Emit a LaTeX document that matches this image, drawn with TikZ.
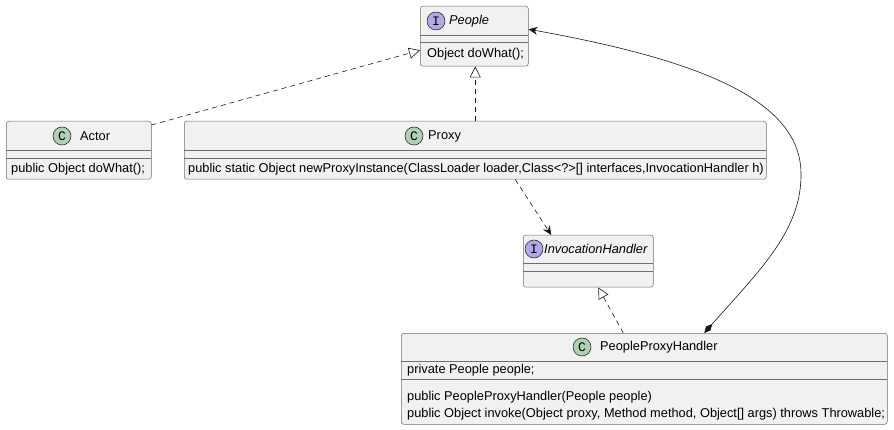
\documentclass[tikz,border=0pt]{standalone}
\usepackage{fontspec}
\setmainfont{Liberation Sans}
\newfontfamily\monofont{Liberation Mono}
\usetikzlibrary{arrows.meta}
\definecolor{boxfill}{HTML}{F1F1F1}
\definecolor{boxline}{HTML}{6E6E6E}
\definecolor{connline}{HTML}{181818}
\definecolor{ifill}{HTML}{B4A7E5}
\definecolor{cfill}{HTML}{ADD1B2}
\tikzset{
  umlbox/.style={draw=boxline, fill=boxfill, line width=0.5pt, rounded corners=2.5pt, anchor=north west, inner sep=0pt},
  divider/.style={draw=boxline, line width=0.5pt},
  txt/.style={anchor=west, inner sep=0pt, font=\fontsize{12.8}{15}\selectfont},
  ititle/.style={txt, font=\fontsize{12.8}{15}\selectfont\itshape},
  iicon/.style={circle, draw=connline, line width=0.5pt, fill=ifill, minimum size=18pt, inner sep=0pt, font=\monofont\fontsize{13}{13}\selectfont},
  cicon/.style={circle, draw=connline, line width=0.5pt, fill=cfill, minimum size=18pt, inner sep=0pt, font=\monofont\fontsize{13}{13}\selectfont},
  conn/.style={draw=connline, line width=0.6pt},
  dashedline/.style={conn, dash pattern=on 5pt off 4pt},
  realize/.style={dashedline, -{Triangle[open, length=11pt, width=11pt, fill=white]}},
}
\begin{document}
\begin{tikzpicture}[x=1pt,y=-1pt]
\useasboundingbox (0,0) rectangle (894,430);
% People
\node[umlbox, minimum width=108pt, minimum height=60pt] (people) at (420,6) {};
\draw[divider] (420,35) -- (528,35);
\draw[divider] (420,42) -- (528,42);
\node[iicon] (peopleI) at (436,21) {I};
\node[ititle] (peopleT) at (449,21) {People};
\node[txt] (peopleM) at (427,54) {Object doWhat();};
% Actor
\node[umlbox, minimum width=145pt, minimum height=58pt] (actor) at (6,121) {};
\draw[divider] (6,150) -- (151,150);
\draw[divider] (6,158) -- (151,158);
\node[cicon] (actorC) at (62,136) {C};
\node[txt] (actorT) at (80,136) {Actor};
\node[txt] (actorM) at (11,169) {public Object doWhat();};
% Proxy
\node[umlbox, minimum width=582pt, minimum height=58pt] (proxy) at (184,121) {};
\draw[divider] (184,150) -- (766,150);
\draw[divider] (184,158) -- (766,158);
\node[cicon] (proxyC) at (414,136) {C};
\node[txt] (proxyT) at (428,136) {Proxy};
\node[txt] (proxyM) at (188,169) {public static Object newProxyInstance(ClassLoader loader,Class<?>[] interfaces,InvocationHandler h)};
% InvocationHandler
\node[umlbox, minimum width=130pt, minimum height=52pt] (ih) at (523,235) {};
\draw[divider] (523,263) -- (653,263);
\draw[divider] (523,271) -- (653,271);
\node[iicon] (ihI) at (534,249) {I};
\node[ititle] (ihT) at (544,249) {InvocationHandler};
% PeopleProxyHandler
\node[umlbox, minimum width=486pt, minimum height=91pt] (pph) at (401,333) {};
\draw[divider] (401,361) -- (887,361);
\draw[divider] (401,379) -- (887,379);
\node[cicon] (pphC) at (582,347) {C};
\node[txt] (pphT) at (600,347) {PeopleProxyHandler};
\node[txt] (pphA) at (407,370) {private People people;};
\node[txt] (pphM1) at (407,397) {public PeopleProxyHandler(People people)};
\node[txt] (pphM2) at (407,414) {public Object invoke(Object proxy, Method method, Object[] args) throws Throwable;};
% connectors
\draw[realize] ([yshift=-4pt]actor.north east) -- ([yshift=-14pt]people.west);
\draw[realize] (proxy.north) -- (proxy.north |- people.south);
\draw[dashedline, -{Stealth[length=9pt, width=8pt, inset=3pt]}] ([xshift=40pt]proxy.south) -- ([xshift=-37pt]ih.north);
\draw[realize] ([xshift=-21pt]pph.north) -- ([xshift=10pt]ih.south);
\draw[conn, {Stealth[length=9pt, width=8pt, inset=3pt]}-{Diamond[length=12pt, width=6pt]}]
  ([yshift=7pt]people.east) .. controls (700,60) and (800,100) .. (801,173)
  .. controls (802,230) and (760,270) .. ([xshift=60pt]pph.north);
\end{tikzpicture}
\end{document}
